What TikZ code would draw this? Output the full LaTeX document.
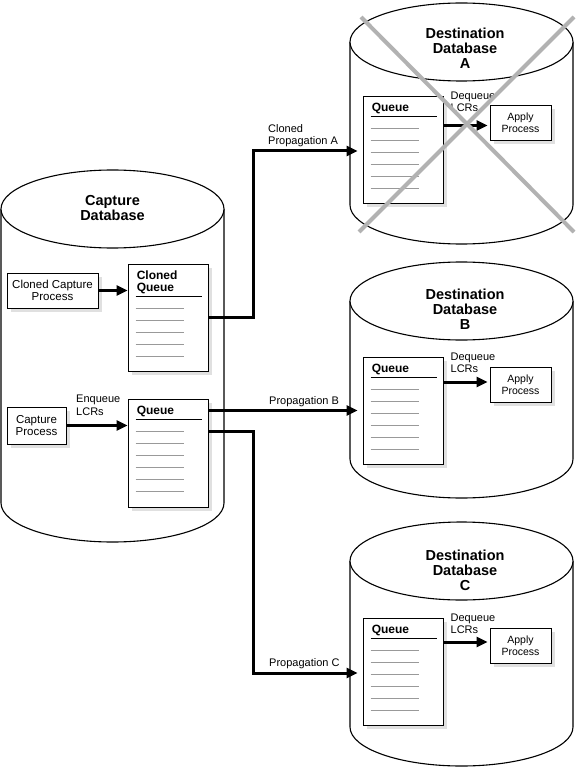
\documentclass[tikz,border=0pt]{standalone}
\usepackage{fontspec}
\setmainfont{Liberation Sans}
\usetikzlibrary{arrows.meta,shadows}

\newcommand{\dbcyl}[3]{%
\draw[line width=1.1pt, fill=white] (#1-111.5,#2) -- (#1-111.5,#3) arc[start angle=180, end angle=360, x radius=111.5pt, y radius=39pt] -- (#1+111.5,#2);
\draw[line width=1.1pt, fill=white] (#1,#2) ellipse [x radius=111.5pt, y radius=39pt];}

\begin{document}
\begin{tikzpicture}[x=1pt, y=-1pt,
  box/.style={draw, line width=0.9pt, fill=white, inner sep=0pt,
    drop shadow={shadow xshift=4pt, shadow yshift=-4pt, fill=black!12, opacity=1}},
  qtitle/.style={inner sep=0pt, font=\fontsize{12}{12}\selectfont\bfseries},
  dbtitle/.style={align=center, inner sep=0pt, font=\fontsize{14.5}{15}\selectfont\bfseries},
  lbl/.style={inner sep=0pt, align=left, font=\fontsize{11}{12.5}\selectfont},
  qrule/.style={line width=1.2pt},
  qline/.style={line width=1.1pt, black!40},
  flow/.style={line width=3pt, -{Triangle[length=11pt, width=10pt]}},
  xmark/.style={line width=4pt, black!30}]
\useasboundingbox (0,0) rectangle (575,767);

\dbcyl{112.5}{209}{503}
\dbcyl{461.5}{42}{205}
\dbcyl{461.5}{301}{459}
\dbcyl{461.5}{561}{727}

\node[dbtitle] (capdb) at (112.5,208.5) {Capture\\Database};
\node[dbtitle] (dbA) at (465,48) {Destination\\Database\\A};
\node[dbtitle] (dbB) at (465,309) {Destination\\Database\\B};
\node[dbtitle] (dbC) at (465,570) {Destination\\Database\\C};

\node[box, minimum width=91pt, minimum height=35pt, align=center, font=\fontsize{11.5}{12}\selectfont] (ccap) at (52.5,290.5) {Cloned Capture\\Process};
\node[box, minimum width=59pt, minimum height=37pt, align=center, font=\fontsize{11.5}{11.5}\selectfont] (cap) at (36.5,425.5) {Capture\\Process};
\node[box, minimum width=80pt, minimum height=107pt] (cqueue) at (168,317.5) {};
\node[box, minimum width=80pt, minimum height=108pt] (queue) at (168,453) {};
\node[box, minimum width=80pt, minimum height=107pt] (qa) at (403,149.5) {};
\node[box, minimum width=80pt, minimum height=107pt] (qb) at (403,410.5) {};
\node[box, minimum width=80pt, minimum height=107pt] (qc) at (403,671.5) {};
\node[box, minimum width=61pt, minimum height=35pt, align=center, font=\fontsize{10.5}{12.5}\selectfont] (applyA) at (520.5,122.5) {Apply\\Process};
\node[box, minimum width=61pt, minimum height=35pt, align=center, font=\fontsize{10.5}{12.5}\selectfont] (applyB) at (520.5,384.5) {Apply\\Process};
\node[box, minimum width=61pt, minimum height=35pt, align=center, font=\fontsize{10.5}{12.5}\selectfont] (applyC) at (520.5,645.5) {Apply\\Process};

\node[qtitle, align=left, anchor=north west] at ([xshift=9pt,yshift=-7.5pt]cqueue.north west) {Cloned\\Queue};
\draw[qrule] ([xshift=8pt,yshift=-33pt]cqueue.north west) -- ([xshift=-6pt,yshift=-33pt]cqueue.north east);
\foreach \i in {0,...,4}
  \draw[qline] ([xshift=8pt,yshift={-(45+12*\i)*1pt}]cqueue.north west) -- ++(48,0);

\foreach \q in {queue,qa,qb,qc} {
  \node[qtitle, anchor=base west] at ([xshift=9pt,yshift=-16pt]\q.north west) {Queue};
  \draw[qrule] ([xshift=8pt,yshift=-21pt]\q.north west) -- ([xshift=-6pt,yshift=-21pt]\q.north east);
  \foreach \i in {0,...,5}
    \draw[qline] ([xshift=8pt,yshift={-(33+12*\i)*1pt}]\q.north west) -- ++(48,0);
}

\draw[flow] (ccap.east) -- (ccap.east -| cqueue.west);
\draw[flow] (cap.east) -- (cap.east -| queue.west);
\node[lbl, anchor=north west] at (76,395) {Enqueue\\LCRs};

\draw[flow, shorten >=5pt] (cqueue.east) -- ++(45,0) |- ([yshift=-1.5pt]qa.west);
\node[lbl, anchor=north west] at (268,124) {Cloned\\Propagation A};
\draw[flow, shorten >=5pt] (queue.east |- qb.west) -- (qb.west);
\node[lbl, anchor=base west] at (269,404) {Propagation B};
\draw[flow, shorten >=5pt] ([yshift=22pt]queue.east) -- ++(45,0) |- ([yshift=-1.5pt]qc.west);
\node[lbl, anchor=base west] at (269,666) {Propagation C};

\draw[flow, shorten >=2pt] ([yshift=-3pt]qa.east |- applyA.west) -- ([yshift=-3pt]applyA.west);
\draw[flow, shorten >=2pt] ([yshift=2.5pt]qb.east |- applyB.west) -- ([yshift=2.5pt]applyB.west);
\draw[flow, shorten >=2pt] ([yshift=3.5pt]qc.east |- applyC.west) -- ([yshift=3.5pt]applyC.west);
\node[lbl, anchor=north west] at ([xshift=7pt,yshift=4pt]qa.north east) {Dequeue\\LCRs};
\node[lbl, anchor=north west] at ([xshift=7pt,yshift=4pt]qb.north east) {Dequeue\\LCRs};
\node[lbl, anchor=north west] at ([xshift=7pt,yshift=4pt]qc.north east) {Dequeue\\LCRs};

\draw[xmark] (361,17) -- (574,232);
\draw[xmark] (574,17) -- (359,232);
\end{tikzpicture}
\end{document}
